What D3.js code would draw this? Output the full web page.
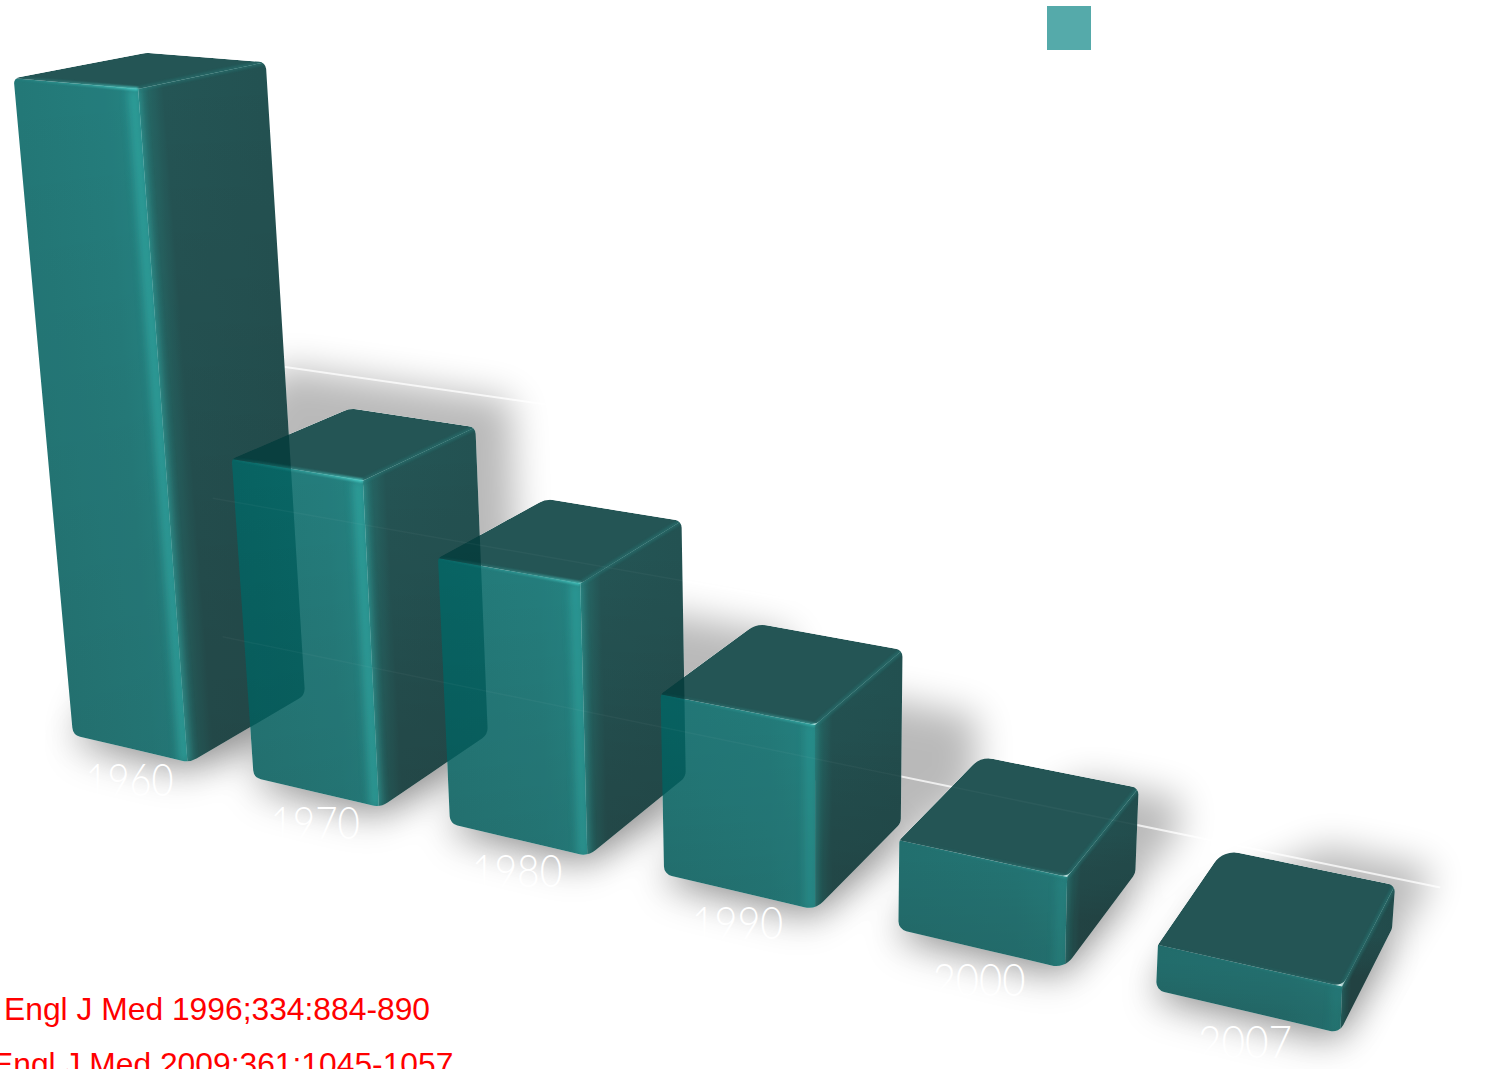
<!DOCTYPE html>
<html>
<head>
<meta charset="utf-8">
<script src="https://cdn.jsdelivr.net/npm/d3@7"></script>
<style>
html,body{margin:0;padding:0;background:#fff;overflow:hidden}
svg{display:block}
</style>
</head>
<body>
<svg id="chart" width="1501" height="1069"></svg>
<script>
const years = ["1960","1970","1980","1990","2000","2007"];
const values = [40.9,19.9,16.1,10.6,5.1,2.5];
const gridLevels = [0,10,20];
const tickLabels = ["0"];
const references = ["Engl J Med 1996;334:884-890","Engl J Med 2009;361:1045-1057"];

const W = 1501, H = 1069;
const svg = d3.select("#chart");
const defs = svg.append("defs");

// Scales: category band along the floor, value to camera height
const uScale = d3.scaleBand().domain(years).range([0,5.655]).paddingInner(0.345).paddingOuter(0);
const hScale = d3.scaleLinear().domain([0,20]).range([0,0.036]);
const depthBack = 1, wallDepth = 1.5;

// Pinhole camera: floor homography plus vertical vanishing point
function project(u,w,v){
  const hc = -hScale(v);
  const den = 1 - 0.0398*u + 0.0656*w + hc;
  const xn = 170.6*u + 132.3*w + 73 + hc*820;
  const yn = 11.6*u - 20*w + 735 + hc*9000;
  return [xn/den, yn/den];
}

function rounded(pts, radii){
  const p = d3.path(), n = pts.length;
  const m0 = [(pts[n-1][0]+pts[0][0])/2,(pts[n-1][1]+pts[0][1])/2];
  p.moveTo(m0[0],m0[1]);
  pts.forEach((a,i)=>{
    const b = pts[(i+1)%n];
    p.arcTo(a[0],a[1],(a[0]+b[0])/2,(a[1]+b[1])/2,radii[i]);
    p.lineTo((a[0]+b[0])/2,(a[1]+b[1])/2);
  });
  p.closePath();
  return p.toString();
}
const poly = pts => "M"+pts.map(p=>p.join(",")).join("L")+"Z";
const mid = (a,b)=>[(a[0]+b[0])/2,(a[1]+b[1])/2];
// end point of a gradient whose colour bands run parallel to the edge a-b
function across(a,b,target){
  const ex=b[0]-a[0], ey=b[1]-a[1], len=Math.hypot(ex,ey)||1;
  const nx=-ey/len, ny=ex/len, s=(target[0]-a[0])*nx+(target[1]-a[1])*ny;
  return [a[0]+nx*s, a[1]+ny*s];
}

// Geometry of every bar, derived from the data
const bars = years.map((y,i)=>{
  const u0 = uScale(y), u1 = u0+uScale.bandwidth(), v = values[i];
  const g = {
    year:y, v, i, u0, u1,
    bL:project(u0,0,0), bF:project(u1,0,0), bR:project(u1,depthBack,0), bB:project(u0,depthBack,0),
    tL:project(u0,0,v), tF:project(u1,0,v), tR:project(u1,depthBack,v), tB:project(u0,depthBack,v)
  };
  // cast shadow: floor footprint reaching the back wall, taller bars throw further
  const reach = Math.min(20, v*(0.4+v*0.005)), du = Math.max(0.05, v*0.025-0.1);
  g.hull = d3.polygonHull([
    g.bL,g.bF,g.bR,g.bB,
    project(u0+0.3,wallDepth,0),project(u1+du,wallDepth,0),
    project(u0+0.3,wallDepth,reach),project(u1+du,wallDepth,reach)
  ]);
  g.foot = [g.bL,g.bF,g.bR,g.bB];
  const hp = g.bF[1]-g.tF[1];
  const r = k => Math.min(k, Math.max(4,hp*0.25));
  g.outline = rounded([g.bL,g.bF,g.bR,g.tR,g.tB,g.tL],[r(10),r(20),r(12),8,24,6]);
  return g;
});

// filters
function blur(id,s){
  defs.append("filter").attr("id",id).attr("filterUnits","userSpaceOnUse")
    .attr("x",-100).attr("y",-100).attr("width",W+200).attr("height",H+200)
    .append("feGaussianBlur").attr("stdDeviation",s);
}
blur("shadowBlur",18);
blur("haloBlur",20);
blur("soft4",4);
blur("soft1",1);

function grad(id,a,b,stops){
  const lg = defs.append("linearGradient").attr("id",id).attr("gradientUnits","userSpaceOnUse")
    .attr("x1",a[0]).attr("y1",a[1]).attr("x2",b[0]).attr("y2",b[1]);
  stops.forEach(s=>lg.append("stop").attr("offset",s[0]).attr("stop-color",s[1]).attr("stop-opacity",s[2]===undefined?1:s[2]));
}

// Shadows
svg.append("g").attr("filter","url(#haloBlur)").attr("opacity",0.26)
  .attr("transform","translate(-4,10)")
  .selectAll("path").data(bars).join("path")
  .attr("d",d=>poly(d.foot)).attr("fill","#000");
svg.append("g").attr("filter","url(#shadowBlur)").attr("opacity",0.27)
  .selectAll("path").data(bars).join("path")
  .attr("d",d=>poly(d.hull)).attr("fill","#000");

// Gridlines
const gridLine = d3.line().x(d=>d[0]).y(d=>d[1]);
const gridPath = v=>gridLine([project(-0.15,wallDepth,v),project(5.75,wallDepth,v)]);
svg.append("g").selectAll("path").data(gridLevels).join("path")
  .attr("d",gridPath)
  .attr("fill","none").attr("stroke","#fff").attr("stroke-width",2).attr("opacity",0.75);

// Tick and category labels (white, seen only on the shadow)
svg.append("g").selectAll("text").data(tickLabels).join("text")
  .attr("x",d=>project(5.87,wallDepth,+d)[0])
  .attr("y",d=>project(5.87,wallDepth,+d)[1]+14)
  .attr("font-family","Lato, 'Open Sans', sans-serif").attr("font-size",36)
  .attr("fill","#fff").text(d=>d);
svg.append("g").selectAll("text").data(bars).join("text")
  .attr("x",d=>project((d.u0+d.u1)/2,0,0)[0]-1)
  .attr("y",d=>project((d.u0+d.u1)/2,0,0)[1]+47)
  .attr("text-anchor","middle")
  .attr("font-family","Lato, 'Open Sans', sans-serif").attr("font-weight",300)
  .attr("font-size",45)
  .attr("textLength",d=>88+d.i*1.2).attr("lengthAdjust","spacingAndGlyphs")
  .attr("fill","#fff").text(d=>d.year);

// White backing: the bars are translucent over the page, not over the shadow
svg.append("g").selectAll("path").data(bars).join("path")
  .attr("d",d=>d.outline).attr("fill","#fff");

// Bars
const highlight = d3.scaleLinear().domain([0,5,20]).range([0.05,0.25,0.85]).clamp(true);
const lowShade = d3.scaleLinear().domain([2.5,12]).range([0.13,0]).clamp(true);
const barG = svg.append("g").selectAll("g").data(bars).join("g").attr("opacity",0.88);

barG.each(function(d){
  const g = d3.select(this), id = "b"+d.year;
  defs.append("clipPath").attr("id","clip"+id).append("path").attr("d",d.outline);
  const mF = mid(d.bF,d.tF);
  grad("l"+id,across(mF,d.tF,mid(d.bL,d.tL)),mF,[[0,"#056665"],[0.7,"#066b6a"],[1,"#077371"]]);
  grad("r"+id,mF,across(mF,d.tF,mid(d.bR,d.tR)),[[0,"#0a6462"],[0.08,"#07504e"],[0.2,"#063e3e"],[1,"#053b3b"]]);
  grad("ls"+id,mid(d.tL,d.tF),mid(d.bL,d.bF),[[0,"#000",0],[1,"#000",0.1]]);
  grad("rs"+id,mid(d.tF,d.tR),mid(d.bF,d.bR),[[0,"#000",0],[1,"#000",0.24]]);
  grad("e"+id,d.tL,d.tF,[[0,"#30c4bc",0.05],[0.6,"#30c4bc",0.5],[1,"#38d0c8",1]]);

  const c = g.append("g").attr("clip-path",`url(#clip${id})`);
  const leftFace = poly([[d.bL[0]-30,d.bL[1]+30],[d.bF[0],d.bF[1]+30],d.tF,d.tL,[d.tL[0]-30,d.tL[1]]]);
  const rightFace = poly([[d.bF[0],d.bF[1]+30],[d.bR[0]+30,d.bR[1]+30],[d.tR[0]+30,d.tR[1]],d.tR,d.tF]);
  c.append("path").attr("d",leftFace).attr("fill",`url(#l${id})`);
  c.append("path").attr("d",rightFace).attr("fill",`url(#r${id})`);
  c.append("path").attr("d",leftFace).attr("fill",`url(#ls${id})`);
  c.append("path").attr("d",rightFace).attr("fill",`url(#rs${id})`);
  c.append("path").attr("d",leftFace).attr("fill","#000").attr("opacity",lowShade(d.v));
  c.append("path").attr("d",rightFace).attr("fill","#000").attr("opacity",lowShade(d.v));
  // vertical glossy edge
  c.append("line").attr("x1",d.bF[0]-5).attr("y1",d.bF[1]).attr("x2",d.tF[0]-5).attr("y2",d.tF[1])
    .attr("stroke","#1cb0a8").attr("stroke-width",11).attr("filter","url(#soft4)")
    .attr("opacity",highlight(d.v)*0.6);
  // top face reaches every outline corner; only its front corner is rounded
  const topFace = rounded([d.tL,d.tF,d.tR,d.tB],[0.5,12,0.5,0.5]);
  c.append("path").attr("d",topFace).attr("fill","#063e3e");
  // highlighted top edges
  c.append("line").attr("x1",d.tF[0]).attr("y1",d.tF[1]).attr("x2",d.tR[0]).attr("y2",d.tR[1])
    .attr("stroke","#0d6d6a").attr("stroke-width",5).attr("filter","url(#soft1)").attr("opacity",0.4);
  c.append("line").attr("x1",d.tL[0]).attr("y1",d.tL[1]).attr("x2",d.tF[0]).attr("y2",d.tF[1])
    .attr("stroke",`url(#e${id})`).attr("stroke-width",3.5).attr("filter","url(#soft1)")
    .attr("opacity",highlight(d.v));
});

// Gridlines glimpsed through the bars
svg.append("g").selectAll("path").data(gridLevels.filter(v=>v<20)).join("path")
  .attr("d",gridPath)
  .attr("fill","none").attr("stroke","#fff").attr("stroke-width",1.5).attr("opacity",0.035);

// Legend key
svg.append("rect").attr("x",1047).attr("y",6).attr("width",44).attr("height",44).attr("fill","#55aaaa");

// References
svg.append("g").selectAll("text").data(references).join("text")
  .attr("x",(d,i)=>i===0?4:-8)
  .attr("y",(d,i)=>i===0?1020:1075)
  .attr("font-family","'Liberation Sans', Arial, sans-serif").attr("font-size",31.8)
  .attr("fill","#ff0000").text(d=>d);
</script>
</body>
</html>
